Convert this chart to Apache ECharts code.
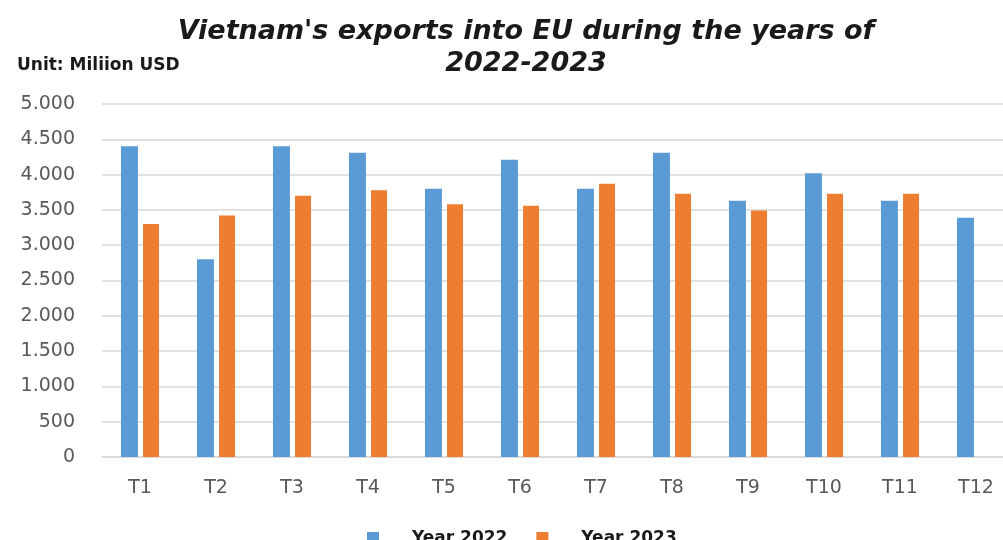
<!DOCTYPE html>
<html><head><meta charset="utf-8">
<script src="https://cdn.jsdelivr.net/npm/echarts@6/dist/echarts.min.js"></script>
<style>html,body{margin:0;padding:0;background:#fff}#c{width:1003px;height:540px}</style>
</head><body><div id="c"></div>
<script>
const categories = ['T1','T2','T3','T4','T5','T6','T7','T8','T9','T10','T11','T12'];
const year2022 = [4400, 2800, 4400, 4310, 3800, 4210, 3800, 4310, 3630, 4020, 3630, 3390];
const year2023 = [3300, 3420, 3700, 3780, 3580, 3560, 3870, 3730, 3490, 3730, 3730, null];
const seriesNames = ['Year 2022', 'Year 2023'];
const titleLines = ["Vietnam's exports into EU during the years of", '2022-2023'];
const unitText = 'Unit: Miliion USD';

const chart = echarts.init(document.getElementById('c'));
chart.setOption({
  backgroundColor: '#fff',
  animation: false,
  title: [{
    text: titleLines.join('\n'),
    left: 521, top: 11, textAlign: 'center',
    textStyle: {fontFamily: 'DejaVu Sans', fontStyle: 'italic', fontWeight: 'bold', fontSize: 27, lineHeight: 32, color: '#1a1a1a'}
  }, {
    text: unitText, left: 12, top: 52,
    textStyle: {fontFamily: 'DejaVu Sans', fontWeight: 'bold', fontSize: 17, color: '#1a1a1a'}
  }],
  legend: {
    data: seriesNames, top: 525, left: 362, itemWidth: 12, itemHeight: 13, itemGap: 29,
    icon: 'rect',
    textStyle: {fontFamily: 'DejaVu Sans', fontWeight: 'bold', fontSize: 17, color: '#1a1a1a', padding: [0,0,0,28]}
  },
  grid: {left: 102, top: 104, width: 912, height: 353, containLabel: false, outerBoundsMode: 'none'},
  xAxis: {
    type: 'category', data: categories,
    axisLine: {lineStyle: {color: '#d9d9d9', width: 1.5}}, axisTick: {show: false},
    axisLabel: {fontFamily: 'DejaVu Sans', fontSize: 19, color: '#595959', margin: 22}
  },
  yAxis: {
    type: 'value', min: 0, max: 5000, interval: 500,
    axisLine: {show: false}, axisTick: {show: false},
    splitLine: {lineStyle: {color: '#d9d9d9', width: 1.5}},
    axisLabel: {fontFamily: 'DejaVu Sans', fontSize: 19, color: '#595959', margin: 27,
      formatter: v => v >= 1000 ? (v/1000).toFixed(3) : String(v)}
  },
  series: [
    {name: seriesNames[0], type: 'bar', data: year2022, barWidth: 17, barGap: '30%', itemStyle: {color: '#5B9BD5'}},
    {name: seriesNames[1], type: 'bar', data: year2023, barWidth: 16, itemStyle: {color: '#ED7D31'}}
  ]
});
</script></body></html>
